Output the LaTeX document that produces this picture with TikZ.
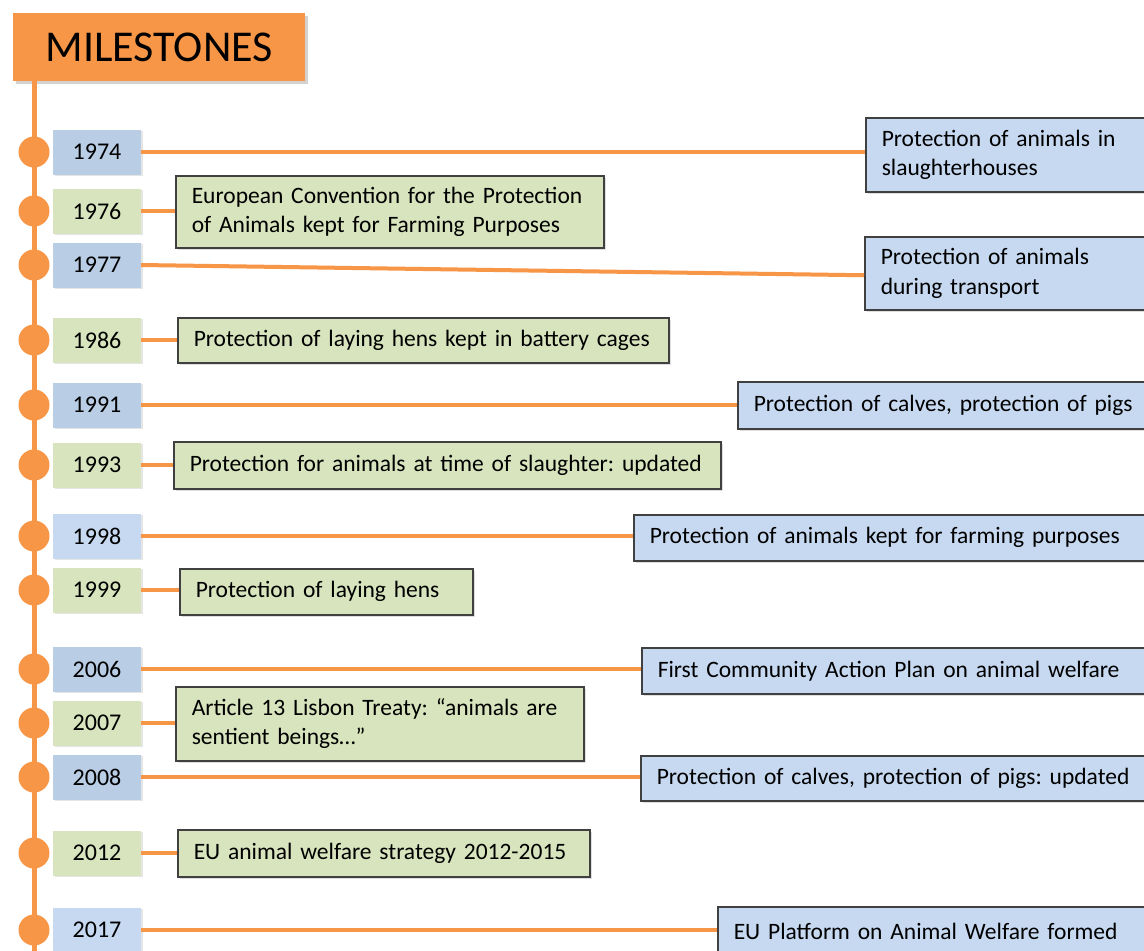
\documentclass[tikz,border=0pt]{standalone}
\usepackage{fontspec}
\setmainfont{Carlito}
\frenchspacing
\usetikzlibrary{shadows}
\definecolor{orng}{HTML}{F79646}
\definecolor{yblue}{HTML}{B9CDE5}
\definecolor{yblueL}{HTML}{C6D9F1}
\definecolor{tblue}{HTML}{C6D9F1}
\definecolor{tgreen}{HTML}{D7E4BD}
\definecolor{bord}{HTML}{404040}
\tikzset{
  conn/.style={draw=orng, line width=4pt},
  spine/.style={draw=orng, line width=5pt},
  dotnode/.style={circle, fill=orng, minimum size=31pt, inner sep=0pt},
  yearbox/.style={rectangle, minimum width=88pt, minimum height=45pt, inner sep=0pt,
     font=\fontsize{24}{28}\selectfont, drop shadow={opacity=0.2, shadow xshift=1.5pt, shadow yshift=-1.5pt}},
  txtbox/.style={rectangle, draw=bord, line width=1.5pt, anchor=north west, inner xsep=16pt, inner ysep=0pt,
     align=left, font=\fontsize{23.5}{29.5}\selectfont,
     drop shadow={opacity=0.25, shadow xshift=2pt, shadow yshift=-2pt}},
  bluebox/.style={txtbox, fill=tblue},
  greenbox/.style={txtbox, fill=tgreen},
  header/.style={rectangle, fill=orng, anchor=north west, minimum width=292pt, minimum height=68pt,
     inner sep=0pt, font=\fontsize{44}{48}\selectfont,
     drop shadow={opacity=0.35, shadow xshift=3pt, shadow yshift=-3pt}}
}
\newcommand{\tbox}[7]{% name, style, left, top, right, bottom, text
  \pgfmathsetmacro{\tbw}{#5-#3-32}%
  \pgfmathsetmacro{\tbh}{#6-#4}%
  \node[#2, text width=\tbw pt, minimum height=\tbh pt] (#1) at (#3,#4) {#7};}
\begin{document}
\begin{tikzpicture}[x=1pt,y=-1pt]
\useasboundingbox (0,0) rectangle (1144,951);
\clip (0,0) rectangle (1144,951);
\fill[white] (0,0) rectangle (1144,951);

% header
\node[header] (hdr) at (13,13) {MILESTONES};
\coordinate (spinetop) at (34,81);
\coordinate (spinebot) at (34,960);
\draw[spine] (spinetop) -- (spinebot);

% timeline dots
\foreach \n/\y in {1974/152,1976/211,1977/265,1986/340,1991/405,1993/465,1998/536,1999/590,2006/669,2007/723,2008/777,2012/853,2017/930}
  \node[dotnode] (d\n) at (34,\y) {};

% year boxes
\node[yearbox, fill=yblue]  (y1974) at (97,152) {1974};
\node[yearbox, fill=tgreen] (y1976) at (97,211) {1976};
\node[yearbox, fill=yblue]  (y1977) at (97,265) {1977};
\node[yearbox, fill=tgreen] (y1986) at (97,340) {1986};
\node[yearbox, fill=yblue]  (y1991) at (97,405) {1991};
\node[yearbox, fill=tgreen] (y1993) at (97,465) {1993};
\node[yearbox, fill=yblueL] (y1998) at (97,536) {1998};
\node[yearbox, fill=tgreen] (y1999) at (97,590) {1999};
\node[yearbox, fill=yblue]  (y2006) at (97,669) {2006};
\node[yearbox, fill=tgreen] (y2007) at (97,723) {2007};
\node[yearbox, fill=yblue]  (y2008) at (97,777) {2008};
\node[yearbox, fill=tgreen] (y2012) at (97,853) {2012};
\node[yearbox, fill=yblueL] (y2017) at (97,930) {2017};

% text boxes
\tbox{t1974}{bluebox}{865}{117}{1160}{191}{Protection of animals in\\slaughterhouses}
\tbox{t1976}{greenbox}{175}{175}{603}{247}{European Convention for the Protection\\of Animals kept for Farming Purposes}
\tbox{t1977}{bluebox}{864}{236}{1160}{309}{Protection of animals\\during transport}
\tbox{t1986}{greenbox}{177}{317}{668}{362}{Protection of laying hens kept in battery cages}
\tbox{t1991}{bluebox}{737}{381}{1160}{428}{Protection of calves, protection of pigs}
\tbox{t1993}{greenbox}{173}{441}{720}{488}{Protection for animals at time of slaughter: updated}
\tbox{t1998}{bluebox}{633}{514}{1160}{560}{Protection of animals kept for farming purposes}
\tbox{t1999}{greenbox}{179}{568}{472}{614}{Protection of laying hens}
\tbox{t2006}{bluebox}{641}{647}{1160}{693}{First Community Action Plan on animal welfare}
\tbox{t2007}{greenbox}{175}{686}{583}{760}{Article 13 Lisbon Treaty: “animals are\\sentient beings…”}
\tbox{t2008}{bluebox}{640}{755}{1160}{800}{Protection of calves, protection of pigs: updated}
\tbox{t2012}{greenbox}{177}{829}{589}{876}{EU animal welfare strategy 2012-2015}
\tbox{t2017}{bluebox}{717}{906}{1160}{955}{EU Platform on Animal Welfare formed}

% connectors
\foreach \n in {1974,1976,1986,1991,1993,1998,1999,2006,2007,2008,2012,2017}
  \draw[conn] (y\n.east) -- (y\n.east -| t\n.west);
\draw[conn] (y1977.east) -- ([yshift=-2pt]t1977.west);
\end{tikzpicture}
\end{document}
